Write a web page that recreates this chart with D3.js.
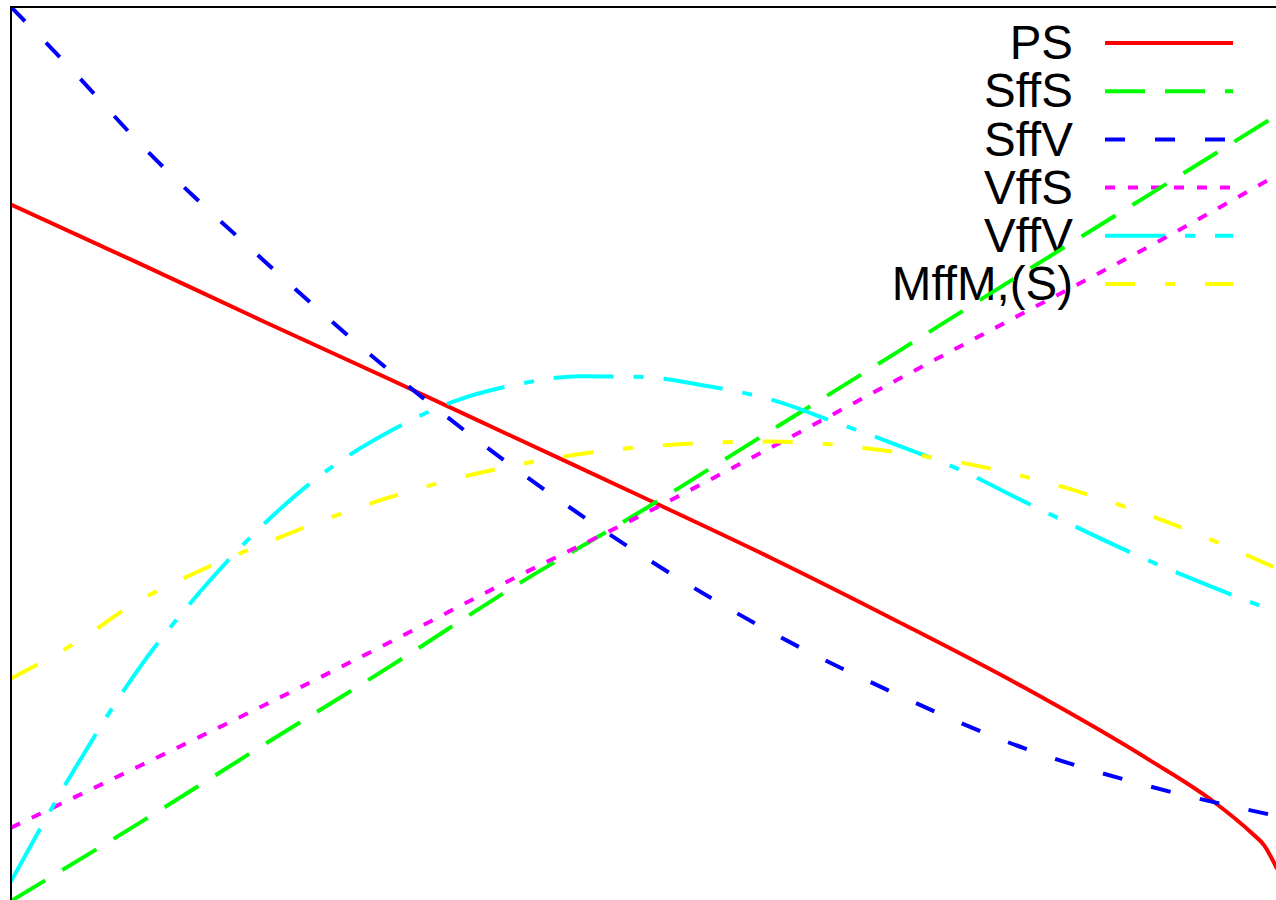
<!DOCTYPE html>
<html>
<head>
<meta charset="utf-8">
<script src="https://cdn.jsdelivr.net/npm/d3@7"></script>
<style>
    body { margin: 0; background: #fff; }
    svg { display: block; }
    .frame { fill: none; stroke: #000; stroke-width: 2; }
    .curve { fill: none; stroke-width: 4; stroke-linejoin: round; }
    .legend text { font-family: "Liberation Sans", Arial, sans-serif; font-size: 47.5px; fill: #000; }
</style>
</head>
<body>
<script>
// sample positions along x (shared by every series, where sampled)
var xsMain = [0, 0.1, 0.2, 0.3, 0.4, 0.5, 0.6, 0.7, 0.8, 0.9, 1.0];

var psX = [0, 0.1, 0.2, 0.3, 0.4, 0.5, 0.6, 0.7, 0.8, 0.9, 0.95, 0.98, 0.99, 1.0];
var psY = [77.9, 71.4, 64.8, 58.3, 51.7, 45.1, 38.4, 31.3, 23.9, 15.7, 11.1, 7.6, 6.2, 3.6];

var sffsY = [0, 8.6, 17.5, 26.3, 35.4, 43.8, 52.6, 61.4, 70.3, 79.1, 87.9];

var sffvX = [0, 0.05, 0.1, 0.2, 0.3, 0.4, 0.5, 0.6, 0.7, 0.8, 0.9, 1.0];
var sffvY = [100.0, 92.7, 85.0, 71.6, 59.2, 48.2, 38.5, 30.1, 23.1, 17.1, 12.8, 9.5];

var vffsY = [8.2, 15.0, 21.9, 29.0, 36.3, 43.3, 50.7, 58.3, 65.8, 73.3, 81.2];

var vffvX = [0, 0.05, 0.1, 0.15, 0.2, 0.25, 0.3, 0.35, 0.4, 0.45, 0.5, 0.55, 0.6, 0.65, 0.7, 0.75, 0.8, 0.9, 1.0];
var vffvY = [2.2, 14.7, 25.8, 34.7, 42.2, 48.2, 52.6, 55.9, 57.8, 58.7, 58.6, 57.6, 56.1, 53.6, 51.0, 48.2, 44.7, 38.0, 32.3];

var mffmX = [0, 0.05, 0.1, 0.15, 0.2, 0.3, 0.4, 0.5, 0.6, 0.7, 0.8, 0.9, 1.0];
var mffmY = [24.9, 28.8, 33.5, 37.0, 40.0, 45.2, 48.8, 50.8, 51.4, 50.2, 47.5, 43.1, 37.2];

var seriesNames = ["PS", "SffS", "SffV", "VffS", "VffV", "MffM,(S)"];
var seriesColors = ["#ff0000", "#00ff00", "#0000ff", "#ff00ff", "#00ffff", "#ffff00"];
var seriesDashes = [null, "40,20", "20,30", "10,13", "60,20,10,20", "30,30,10,30"];

function zip(xs, ys) {
    var out = [];
    for (var i = 0; i < xs.length; i++) {
        out.push([xs[i], ys[i]]);
    }
    return out;
}

var seriesData = [
    zip(psX, psY),
    zip(xsMain, sffsY),
    zip(sffvX, sffvY),
    zip(xsMain, vffsY),
    zip(vffvX, vffvY),
    zip(mffmX, mffmY)
];

var w = 1276;
var h = 900;
var margin = {top: 7, left: 11, right: -1, bottom: -1};
var width = w - margin.left - margin.right;
var height = h - margin.top - margin.bottom;

var svg = d3.select("body").append("svg")
    .attr("width", w)
    .attr("height", h);

svg.append("defs").append("clipPath")
    .attr("id", "plotclip")
    .append("rect")
    .attr("x", 0)
    .attr("y", 0)
    .attr("width", width)
    .attr("height", height);

var chart = svg.append("g")
    .attr("transform", "translate(" + margin.left + "," + margin.top + ")");

var x = d3.scaleLinear().domain([0, 1]).range([0, width]);
var y = d3.scaleLinear().domain([0, 100]).range([height, 0]);

var line = d3.line()
    .x(function (d) { return x(d[0]); })
    .y(function (d) { return y(d[1]); })
    .curve(d3.curveMonotoneX);

// legend
var legendX = 1073 - margin.left;
var legendLine = [1105 - margin.left, 1233 - margin.left];
var legendTop = 43 - margin.top;
var legendStep = 48.2;

var legend = chart.append("g").classed("legend", true);
seriesNames.forEach(function (name, i) {
    var ly = legendTop + i * legendStep;
    legend.append("text")
        .attr("x", legendX)
        .attr("y", ly)
        .attr("dy", "0.34em")
        .attr("text-anchor", "end")
        .text(name);
    legend.append("line")
        .classed("curve", true)
        .attr("x1", legendLine[0])
        .attr("x2", legendLine[1])
        .attr("y1", ly)
        .attr("y2", ly)
        .attr("stroke", seriesColors[i])
        .attr("stroke-dasharray", seriesDashes[i]);
});

var plot = chart.append("g").attr("clip-path", "url(#plotclip)");
seriesData.forEach(function (data, i) {
    plot.append("path")
        .datum(data)
        .classed("curve", true)
        .attr("stroke", seriesColors[i])
        .attr("stroke-dasharray", seriesDashes[i])
        .attr("d", line);
});

chart.append("rect")
    .classed("frame", true)
    .attr("x", 0)
    .attr("y", 0)
    .attr("width", width)
    .attr("height", height);
</script>
</body>
</html>
